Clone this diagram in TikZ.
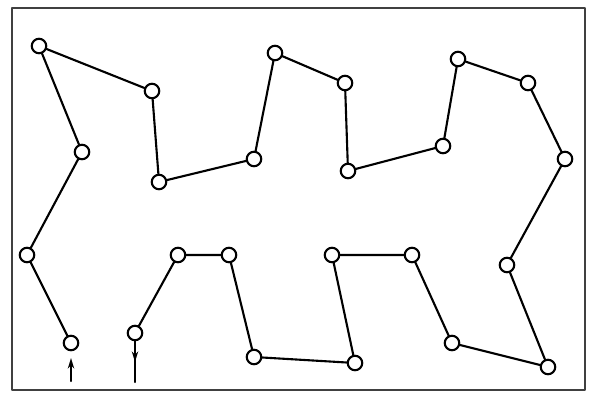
\documentclass[tikz,border=0pt]{standalone}
\usetikzlibrary{arrows.meta}
\tikzset{
  >={Stealth[length=6pt, width=3.6pt]},
  every picture/.style={line cap=round, line join=round},
  joint/.style={circle, draw, line width=1.2pt, fill=white, inner sep=0pt, minimum size=0.29cm},
  link/.style={line width=1.2pt},
  frame/.style={line width=1.2pt, black!75},
}
\begin{document}
\begin{tikzpicture}[x=0.02cm, y=-0.02cm]
  \useasboundingbox (0,0) rectangle (596,395);
  \draw[frame] (12,8) rectangle (585,390);
  % joints, numbered along the route
  \foreach \n/\x/\y in {1/71/343, 2/27/255, 3/82/152, 4/39/46, 5/152/91, 6/159/182,
      7/254/159, 8/275/53, 9/345/83, 10/348/171, 11/443/146, 12/458/59,
      13/528/83, 14/565/159, 15/507/265, 16/548/367, 17/452/343, 18/412/255,
      19/332/255, 20/355/363, 21/254/357, 22/229/255, 23/178/255, 24/135/333}
    \node[joint] (p\n) at (\x,\y) {};
  % route
  \draw[link] (p1) -- (p2) -- (p3) -- (p4) -- (p5) -- (p6) -- (p7) -- (p8)
    -- (p9) -- (p10) -- (p11) -- (p12) -- (p13) -- (p14) -- (p15) -- (p16)
    -- (p17) -- (p18) -- (p19) -- (p20) -- (p21) -- (p22) -- (p23) -- (p24);
  % entry and exit
  \coordinate (in) at (71,381);
  \coordinate (intip) at (71,358);
  \draw[link, ->] (in) -- (intip);
  \coordinate (out) at (135,382);
  \coordinate (outtip) at (135,362);
  \draw[link] (p24) -- (out);
  \draw[link, ->] (p24) -- (outtip);
\end{tikzpicture}
\end{document}
